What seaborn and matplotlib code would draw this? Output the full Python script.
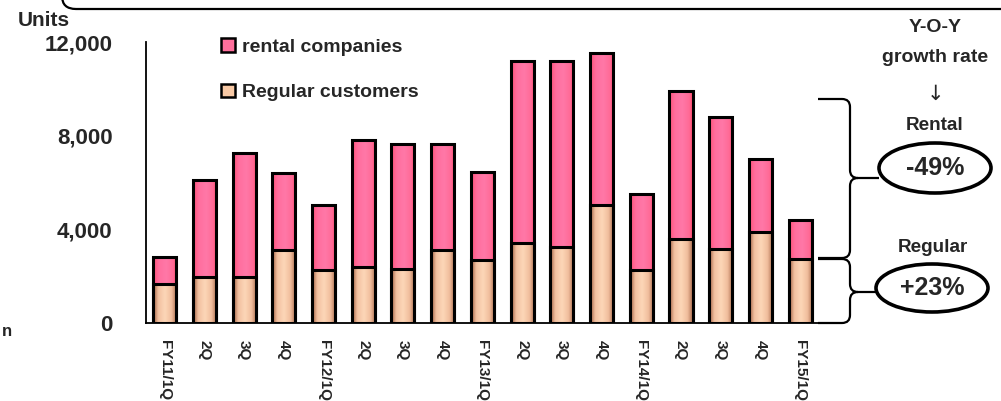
import numpy as np
import pandas as pd
import seaborn as sns
import matplotlib
matplotlib.use("Agg")
import matplotlib.pyplot as plt
from matplotlib import font_manager as fm
from matplotlib.patches import Ellipse, PathPatch, Patch
from matplotlib.path import Path
from matplotlib.colors import LinearSegmentedColormap

# ---------------- data ----------------
categories = ["FY11/1Q", "2Q", "3Q", "4Q", "FY12/1Q", "2Q", "3Q", "4Q",
              "FY13/1Q", "2Q", "3Q", "4Q", "FY14/1Q", "2Q", "3Q", "4Q", "FY15/1Q"]
regular = [1650, 1950, 1950, 3100, 2250, 2400, 2300, 3100, 2700,
           3400, 3250, 5050, 2250, 3600, 3150, 3900, 2750]
rental = [1150, 4150, 5300, 3300, 2800, 5400, 5350, 4550, 3750,
          7800, 7950, 6500, 3250, 6300, 5650, 3100, 1650]
yticks = [0, 4000, 8000, 12000]
ytick_labels = ["0", "4,000", "8,000", "12,000"]
legend_labels = ["rental companies", "Regular customers"]

df = pd.DataFrame({"pos": np.arange(len(categories)),
                   "regular": regular, "rental": rental})
df["total"] = df["regular"] + df["rental"]

# ---------------- style ----------------
sns.set_style("white")
names = {f.name for f in fm.fontManager.ttflist}
NARROW = "Liberation Sans Narrow" in names
FAM = "Liberation Sans Narrow" if NARROW else "Liberation Sans"
S = 1 / 0.82 if NARROW else 1.0
plt.rcParams["font.family"] = [FAM, "DejaVu Sans"]
plt.rcParams["font.weight"] = "bold"

W, H = 1001, 401
fig = plt.figure(figsize=(W / 100, H / 100), dpi=100)
ax = fig.add_axes([146 / W, 1 - 323 / H, (820 - 146) / W, (323 - 42) / H])


def P(x, y):
    return (x / W, 1 - y / H)


pink_c = "#ff6f9c"
tan_c = "#f8c9a5"
pink_cmap = LinearSegmentedColormap.from_list(
    "pk", [(0, "#ff5078"), (0.25, "#ff6e9e"), (0.55, "#ff78a8"), (0.85, "#ff6a96"), (1, "#ff4a66")])
tan_cmap = LinearSegmentedColormap.from_list(
    "tn", [(0, "#9a5a3c"), (0.22, "#f2c0a0"), (0.5, "#fdd7b8"), (0.78, "#f0bd9c"), (1, "#a86a4c")])

n0 = len(ax.patches)
sns.barplot(data=df, x="pos", y="total", color=pink_c, width=0.58,
            edgecolor="black", linewidth=2.2, ax=ax, saturation=1)
n1 = len(ax.patches)
sns.barplot(data=df, x="pos", y="regular", color=tan_c, width=0.58,
            edgecolor="black", linewidth=2.2, ax=ax, saturation=1)
n2 = len(ax.patches)


def grad(patch, cmap, z):
    x0, y0 = patch.get_x(), patch.get_y()
    w, h = patch.get_width(), patch.get_height()
    im = ax.imshow(np.linspace(0, 1, 256).reshape(1, -1), cmap=cmap,
                   extent=[x0, x0 + w, y0, y0 + h], aspect="auto",
                   interpolation="bicubic", zorder=z)
    im.set_clip_path(patch)
    patch.set_facecolor("none")
    patch.set_zorder(z + 0.1)


for p in ax.patches[n0:n1]:
    grad(p, pink_cmap, 2)
for p in ax.patches[n1:n2]:
    grad(p, tan_cmap, 3)

ax.set_xlim(-0.47, 16.5)
ax.set_ylim(0, 12000)
ax.set_xlabel("")
ax.set_ylabel("")

for s in ["top", "right"]:
    ax.spines[s].set_visible(False)
for s in ["left", "bottom"]:
    ax.spines[s].set_color("black")
    ax.spines[s].set_linewidth(1.3)

ax.set_yticks(yticks)
ax.set_yticklabels(ytick_labels, fontsize=16 * S, fontweight="bold")
ax.tick_params(axis="y", direction="in", length=8, width=1.2,
               color="#555555", pad=24)

ax.set_xticks(np.arange(len(categories)))
ax.set_xticklabels(categories, rotation=270, fontsize=11 * S,
                   fontweight="bold", va="top", ha="center")
ax.tick_params(axis="x", which="major", length=0, pad=12)
ax.set_xticks(np.arange(len(categories)) + 0.5, minor=True)
ax.tick_params(axis="x", which="minor", direction="in", length=5,
               width=1.0, color="#999999")

# legend
handles = [Patch(facecolor=pink_c, edgecolor="black", linewidth=1.8),
           Patch(facecolor=tan_c, edgecolor="black", linewidth=1.8)]
fig.legend(handles, legend_labels, loc="upper left",
           bbox_to_anchor=P(221, 38), bbox_transform=fig.transFigure,
           frameon=False, prop={"size": 14 * S, "weight": "bold"},
           handlelength=0.7, handleheight=0.7, handletextpad=0.4,
           labelspacing=1.45, borderpad=0, borderaxespad=0)

# texts
fig.text(*P(18, 20), "Units", fontsize=15 * S, fontweight="bold",
         ha="left", va="center")
fig.text(*P(2, 331), "n", fontsize=12 * S, fontweight="bold",
         ha="left", va="center")
fig.text(*P(935, 27), "Y-O-Y", fontsize=14 * S, fontweight="bold",
         ha="center", va="center")
fig.text(*P(935, 57), "growth rate", fontsize=14 * S, fontweight="bold",
         ha="center", va="center")
fig.text(*P(935, 94), "\u2193", fontsize=15, fontweight="normal",
         ha="center", va="center", family=["DejaVu Sans"])
fig.text(*P(935, 125), "Rental", fontsize=13.6 * S, fontweight="bold",
         ha="center", va="center")
fig.text(*P(935, 168), "-49%", fontsize=18 * S, fontweight="bold",
         ha="center", va="center")
fig.text(*P(933, 247), "Regular", fontsize=13.6 * S, fontweight="bold",
         ha="center", va="center")
fig.text(*P(932, 288), "+23%", fontsize=18 * S, fontweight="bold",
         ha="center", va="center")

# ellipses
for cx, cy, ew, eh in [(935, 168, 112, 50), (932, 288, 112, 48)]:
    c = P(cx, cy)
    fig.patches.append(Ellipse(c, ew / W, eh / H, transform=fig.transFigure,
                               fill=False, edgecolor="black", linewidth=2.6))


def brace(top, bot, mid, tip, xs=818, xv=850, r=8):
    pts = [P(xs, top), P(xv - r, top), P(xv, top), P(xv, top + r),
           P(xv, mid - r), P(xv, mid), P(xv + r, mid), P(tip, mid),
           P(xv + r, mid), P(xv, mid), P(xv, mid + r),
           P(xv, bot - r), P(xv, bot), P(xv - r, bot), P(xs, bot)]
    codes = [Path.MOVETO, Path.LINETO, Path.CURVE3, Path.CURVE3,
             Path.LINETO, Path.CURVE3, Path.CURVE3, Path.LINETO,
             Path.MOVETO, Path.CURVE3, Path.CURVE3,
             Path.LINETO, Path.CURVE3, Path.CURVE3, Path.LINETO]
    fig.patches.append(PathPatch(Path(pts, codes), transform=fig.transFigure,
                                 fill=False, edgecolor="black", linewidth=1.6))


brace(99, 258, 178, 879)
brace(259, 323, 292, 876)

# top rounded box edge
pts = [P(62, -4), P(62, 9), P(76, 9), P(1005, 9)]
codes = [Path.MOVETO, Path.CURVE3, Path.CURVE3, Path.LINETO]
fig.patches.append(PathPatch(Path(pts, codes), transform=fig.transFigure,
                             fill=False, edgecolor="black", linewidth=1.6))

fig.savefig("out.png", dpi=100)
